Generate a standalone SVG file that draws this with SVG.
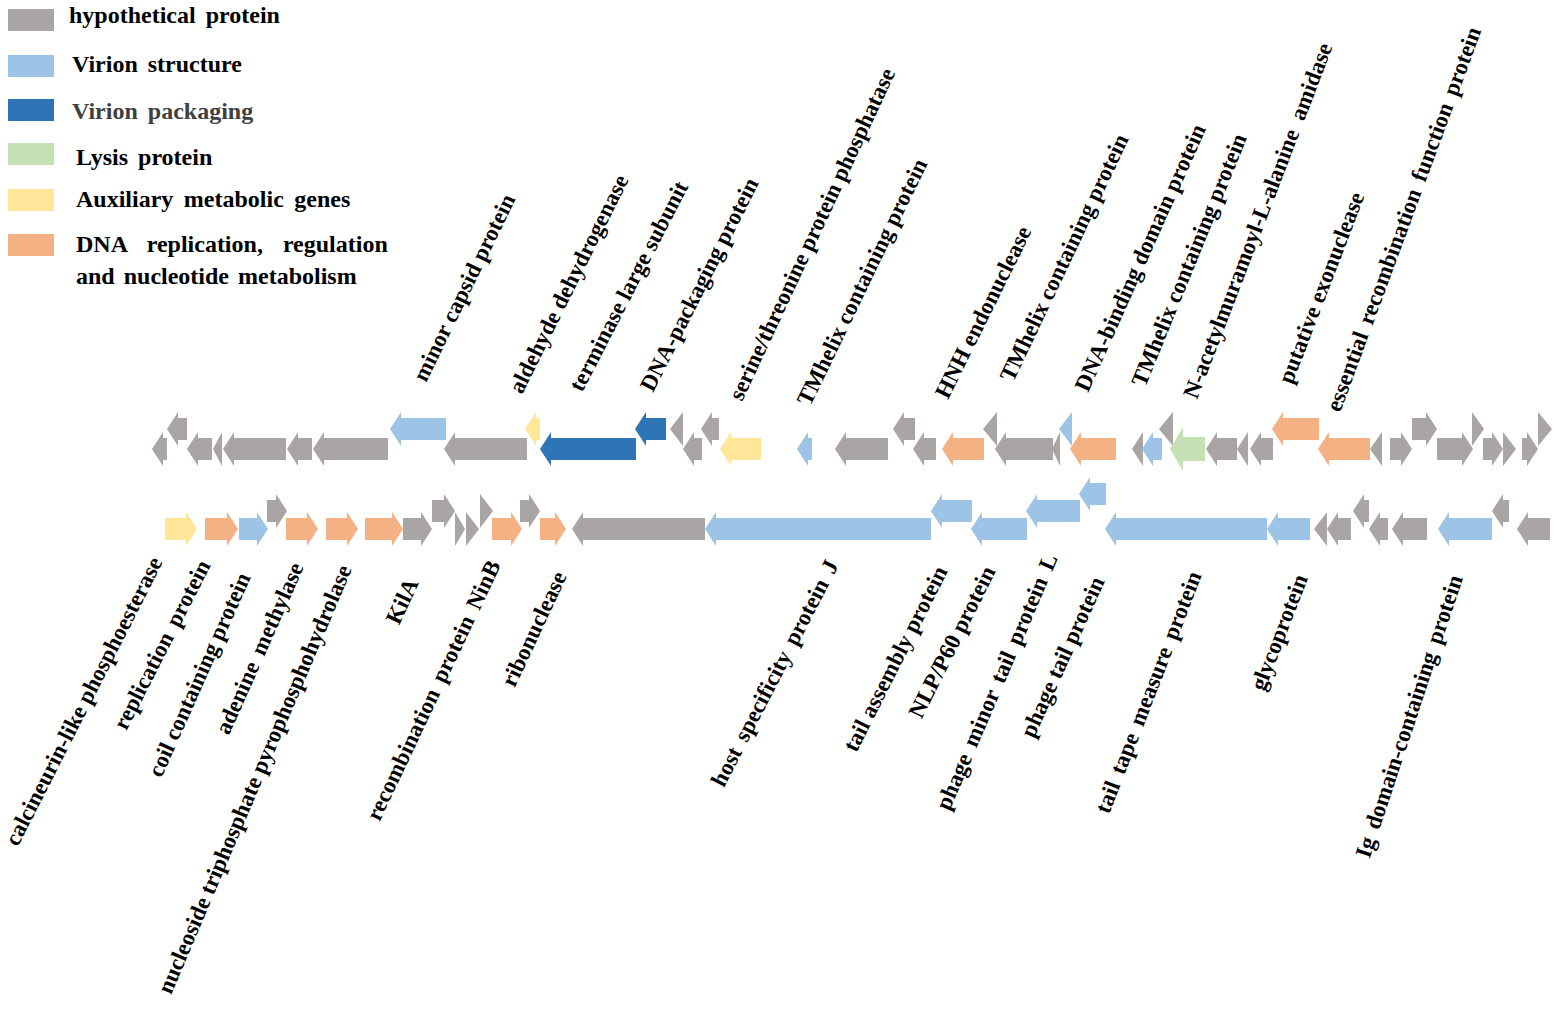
<svg xmlns="http://www.w3.org/2000/svg" width="1559" height="1011" viewBox="0 0 1559 1011">
<style>
text{font-family:"Liberation Serif","Times New Roman",serif;font-weight:bold;fill:#000}
.lg{font-size:24px}
.lb{font-size:23px}
.e{text-anchor:end}
.g{fill:#A8A5A4}.vs{fill:#9DC3E6}.vp{fill:#2E75B6}.ly{fill:#C5E0B4}.am{fill:#FFE699}.dn{fill:#F4B183}
</style>
<rect width="1559" height="1011" fill="#fff"/>
<g id="legend">
<rect class="g" x="8" y="9" width="46" height="22"/>
<rect class="vs" x="8" y="55" width="46" height="22"/>
<rect class="vp" x="8" y="99" width="46" height="22"/>
<rect class="ly" x="8" y="143" width="46" height="22"/>
<rect class="am" x="8" y="189" width="46" height="22"/>
<rect class="dn" x="8" y="234" width="46" height="22"/>
<text class="lg" x="69" y="23" word-spacing="4">hypothetical protein</text>
<text class="lg" x="72" y="72" word-spacing="4">Virion structure</text>
<text class="lg" x="72" y="119" word-spacing="4" style="fill:#404040">Virion packaging</text>
<text class="lg" x="76" y="165" word-spacing="4">Lysis protein</text>
<text class="lg" x="76" y="207" word-spacing="4.5">Auxiliary metabolic genes</text>
<text class="lg" x="76" y="252" word-spacing="14">DNA replication, regulation</text>
<text class="lg" x="76" y="284" word-spacing="3">and nucleotide metabolism</text>
</g>
<g id="top-row">
<polygon class="g" points="152,449 163,432 163,438 167,438 167,460 163,460 163,466"/>
<polygon class="g" points="167,429 178,412 178,418 187,418 187,440 178,440 178,446"/>
<polygon class="g" points="187,449 198,432 198,438 212,438 212,460 198,460 198,466"/>
<polygon class="g" points="213,449 222,432 222,466"/>
<polygon class="g" points="223,449 234,432 234,438 286,438 286,460 234,460 234,466"/>
<polygon class="g" points="287,449 298,432 298,438 312,438 312,460 298,460 298,466"/>
<polygon class="g" points="313,449 324,432 324,438 388,438 388,460 324,460 324,466"/>
<polygon class="vs" points="390,429 401,412 401,418 446,418 446,440 401,440 401,446"/>
<polygon class="g" points="444,449 455,432 455,438 527,438 527,460 455,460 455,466"/>
<polygon class="am" points="525,429 536,412 536,418 540,418 540,440 536,440 536,446"/>
<polygon class="vp" points="540,449 551,432 551,438 636,438 636,460 551,460 551,466"/>
<polygon class="vp" points="635,429 646,412 646,418 666,418 666,440 646,440 646,446"/>
<polygon class="g" points="670,429 683,412 683,446"/>
<polygon class="g" points="683,449 694,432 694,438 702,438 702,460 694,460 694,466"/>
<polygon class="g" points="701,429 712,412 712,418 719,418 719,440 712,440 712,446"/>
<polygon class="am" points="720,449 731,432 731,438 761,438 761,460 731,460 731,466"/>
<polygon class="vs" points="797,449 808,432 808,438 812,438 812,460 808,460 808,466"/>
<polygon class="g" points="835,449 846,432 846,438 888,438 888,460 846,460 846,466"/>
<polygon class="g" points="893,429 904,412 904,418 915,418 915,440 904,440 904,446"/>
<polygon class="g" points="913,449 924,432 924,438 936,438 936,460 924,460 924,466"/>
<polygon class="dn" points="942,449 953,432 953,438 984,438 984,460 953,460 953,466"/>
<polygon class="g" points="983,429 997,412 997,446"/>
<polygon class="g" points="995,449 1006,432 1006,438 1053,438 1053,460 1006,460 1006,466"/>
<polygon class="g" points="1052,449 1060,432 1060,466"/>
<polygon class="vs" points="1059,429 1072,412 1072,446"/>
<polygon class="dn" points="1070,449 1081,432 1081,438 1116,438 1116,460 1081,460 1081,466"/>
<polygon class="g" points="1132,449 1143,432 1143,466"/>
<polygon class="vs" points="1142,449 1153,432 1153,438 1162,438 1162,460 1153,460 1153,466"/>
<polygon class="g" points="1159,429 1173,412 1173,446"/>
<polygon class="ly" points="1170,449 1183,427 1183,437 1205,437 1205,461 1183,461 1183,471"/>
<polygon class="g" points="1206,449 1217,432 1217,438 1237,438 1237,460 1217,460 1217,466"/>
<polygon class="g" points="1237,449 1248,432 1248,466"/>
<polygon class="g" points="1250,449 1261,432 1261,438 1273,438 1273,460 1261,460 1261,466"/>
<polygon class="dn" points="1272,429 1283,412 1283,418 1319,418 1319,440 1283,440 1283,446"/>
<polygon class="dn" points="1318,449 1329,432 1329,438 1370,438 1370,460 1329,460 1329,466"/>
<polygon class="g" points="1370,449 1382,432 1382,466"/>
<polygon class="g" points="1412,449 1401,432 1401,438 1390,438 1390,460 1401,460 1401,466"/>
<polygon class="g" points="1437,429 1426,412 1426,418 1412,418 1412,440 1426,440 1426,446"/>
<polygon class="g" points="1473,449 1462,432 1462,438 1437,438 1437,460 1462,460 1462,466"/>
<polygon class="g" points="1484,429 1472,412 1472,446"/>
<polygon class="g" points="1503,449 1492,432 1492,438 1483,438 1483,460 1492,460 1492,466"/>
<polygon class="g" points="1516,449 1503,432 1503,466"/>
<polygon class="g" points="1538,449 1527,432 1527,438 1522,438 1522,460 1527,460 1527,466"/>
<polygon class="g" points="1552,429 1538,412 1538,446"/>
</g>
<g id="bottom-row">
<polygon class="am" points="197,529 186,512 186,518 165,518 165,540 186,540 186,546"/>
<polygon class="dn" points="238,529 227,512 227,518 205,518 205,540 227,540 227,546"/>
<polygon class="vs" points="268,529 257,512 257,518 239,518 239,540 257,540 257,546"/>
<polygon class="g" points="287,511 276,494 276,500 267,500 267,522 276,522 276,528"/>
<polygon class="dn" points="318,529 307,512 307,518 286,518 286,540 307,540 307,546"/>
<polygon class="dn" points="358,529 347,512 347,518 326,518 326,540 347,540 347,546"/>
<polygon class="dn" points="403,529 392,512 392,518 365,518 365,540 392,540 392,546"/>
<polygon class="g" points="432,529 421,512 421,518 403,518 403,540 421,540 421,546"/>
<polygon class="g" points="455,511 444,494 444,500 432,500 432,522 444,522 444,528"/>
<polygon class="g" points="465,529 455,512 455,546"/>
<polygon class="g" points="479,529 466,512 466,546"/>
<polygon class="g" points="493,511 480,494 480,528"/>
<polygon class="dn" points="522,529 511,512 511,518 492,518 492,540 511,540 511,546"/>
<polygon class="g" points="540,511 529,494 529,500 520,500 520,522 529,522 529,528"/>
<polygon class="dn" points="566,529 555,512 555,518 540,518 540,540 555,540 555,546"/>
<polygon class="g" points="572,529 583,512 583,518 705,518 705,540 583,540 583,546"/>
<polygon class="vs" points="705,529 716,512 716,518 931,518 931,540 716,540 716,546"/>
<polygon class="vs" points="931,511 942,494 942,500 972,500 972,522 942,522 942,528"/>
<polygon class="vs" points="971,529 982,512 982,518 1027,518 1027,540 982,540 982,546"/>
<polygon class="vs" points="1026,511 1037,494 1037,500 1080,500 1080,522 1037,522 1037,528"/>
<polygon class="vs" points="1079,494 1090,477 1090,483 1106,483 1106,505 1090,505 1090,511"/>
<polygon class="vs" points="1105,529 1116,512 1116,518 1267,518 1267,540 1116,540 1116,546"/>
<polygon class="vs" points="1267,529 1278,512 1278,518 1310,518 1310,540 1278,540 1278,546"/>
<polygon class="g" points="1314,529 1327,512 1327,546"/>
<polygon class="g" points="1327,529 1338,512 1338,518 1351,518 1351,540 1338,540 1338,546"/>
<polygon class="g" points="1353,511 1364,494 1364,500 1369,500 1369,522 1364,522 1364,528"/>
<polygon class="g" points="1369,529 1380,512 1380,518 1388,518 1388,540 1380,540 1380,546"/>
<polygon class="g" points="1392,529 1403,512 1403,518 1427,518 1427,540 1403,540 1403,546"/>
<polygon class="vs" points="1438,529 1449,512 1449,518 1492,518 1492,540 1449,540 1449,546"/>
<polygon class="g" points="1492,511 1503,494 1503,500 1509,500 1509,522 1503,522 1503,528"/>
<polygon class="g" points="1517,529 1528,512 1528,518 1550,518 1550,540 1528,540 1528,546"/>
</g>
<g id="top-labels">
<text class="lb" transform="translate(426,383) rotate(-64)">minor capsid protein</text>
<text class="lb" transform="translate(522,395) rotate(-63.6)">aldehyde dehydrogenase</text>
<text class="lb" transform="translate(582,393) rotate(-62.7)">terminase large subunit</text>
<text class="lb" transform="translate(653,393) rotate(-63.2)">DNA-packaging protein</text>
<text class="lb" transform="translate(742,402) rotate(-65)">serine/threonine protein phosphatase</text>
<text class="lb" transform="translate(810,407) rotate(-64.2)">TMhelix containing protein</text>
<text class="lb" transform="translate(948,400) rotate(-63.6)">HNH endonuclease</text>
<text class="lb" transform="translate(1013,383) rotate(-64.6)">TMhelix containing protein</text>
<text class="lb" transform="translate(1088,393) rotate(-65.9)">DNA-binding domain protein</text>
<text class="lb" transform="translate(1145,388) rotate(-67.8)">TMhelix containing protein</text>
<text class="lb" transform="translate(1197,400) rotate(-69)" word-spacing="6">N-acetylmuramoyl-L-alanine amidase</text>
<text class="lb" transform="translate(1292,385) rotate(-69)">putative exonuclease</text>
<text class="lb" transform="translate(1340,413) rotate(-69.7)" word-spacing="4">essential recombination function protein</text>
</g>
<g id="bottom-labels">
<text class="lb e" transform="translate(163,562) rotate(-63)">calcineurin-like phosphoesterase</text>
<text class="lb e" transform="translate(211,565) rotate(-63)" word-spacing="4">replication protein</text>
<text class="lb e" transform="translate(251,577) rotate(-66)">coil containing protein</text>
<text class="lb e" transform="translate(304,567) rotate(-66)" word-spacing="4">adenine methylase</text>
<text class="lb e" transform="translate(352,569) rotate(-67)">nucleoside triphosphate pyrophosphohydrolase</text>
<text class="lb e" transform="translate(419,583) rotate(-65)">KilA</text>
<text class="lb e" transform="translate(501,565) rotate(-64.7)" word-spacing="4">recombination protein NinB</text>
<text class="lb e" transform="translate(567,576) rotate(-65)">ribonuclease</text>
<text class="lb e" transform="translate(839,565) rotate(-62.7)" word-spacing="4">host specificity protein J</text>
<text class="lb e" transform="translate(948,571) rotate(-63.3)">tail assembly protein</text>
<text class="lb e" transform="translate(996,571) rotate(-63.4)">NLP/P60 protein</text>
<text class="lb e" transform="translate(1058,558) rotate(-66.8)" word-spacing="4">phage minor tail protein L</text>
<text class="lb e" transform="translate(1105,581) rotate(-65.7)">phage tail protein</text>
<text class="lb e" transform="translate(1202,575) rotate(-68.8)" word-spacing="4">tail tape measure protein</text>
<text class="lb e" transform="translate(1308,578) rotate(-69)">glycoprotein</text>
<text class="lb e" transform="translate(1463,578) rotate(-71.6)" word-spacing="4">Ig domain-containing protein</text>
</g>
</svg>
